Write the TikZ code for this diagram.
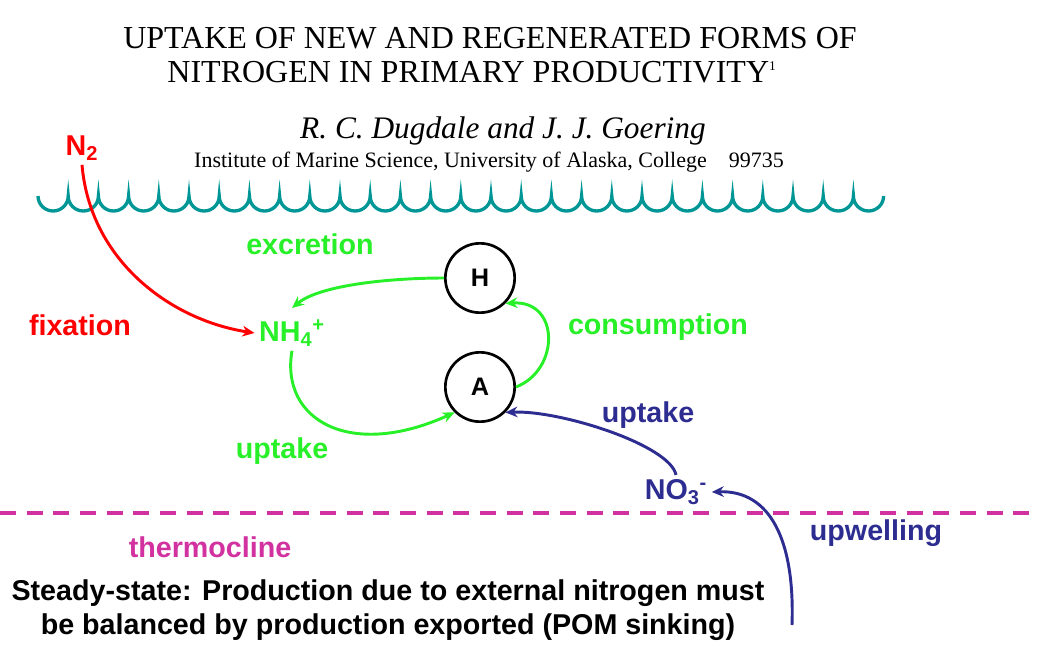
\documentclass[tikz,border=0pt]{standalone}
\usepackage{fontspec}
\setmainfont{Liberation Serif}
\setsansfont{Liberation Sans}
\usetikzlibrary{arrows.meta}
\definecolor{teal2}{RGB}{0,150,150}
\definecolor{grn}{RGB}{40,240,40}
\definecolor{nblue}{RGB}{45,45,145}
\definecolor{mag}{RGB}{210,50,160}
\tikzset{
 lab/.style={font=\sffamily\bfseries\fontsize{21.5}{25}\selectfont},
 circ/.style={draw,line width=2pt,circle,minimum size=52pt,font=\sffamily\bfseries\fontsize{19}{22}\selectfont},
 arr/.style={line width=2.2pt,-{Stealth[length=9pt,width=8pt]}}
}
\begin{document}
\begin{tikzpicture}[x=0.75pt,y=-0.75pt]
\useasboundingbox (0,0) rectangle (1039,667);
\node (t1) at (490,38) {\fontsize{24}{28}\selectfont UPTAKE OF NEW AND REGENERATED FORMS OF};
\node (t2) at (472,72) {\fontsize{24}{28}\selectfont NITROGEN IN PRIMARY PRODUCTIVITY\textsuperscript{\fontsize{10}{10}\selectfont 1}};
\node (au) at (503,131) {\fontsize{23.5}{27}\selectfont\itshape R. C. Dugdale and J. J. Goering};
\node (in) at (489,162) {\fontsize{16.5}{19}\selectfont Institute of Marine Science, University of Alaska, College\quad 99735};
% wave
\draw[teal2,line width=2.5pt] (38,196)
 \foreach \i in {0,...,27} { arc[start angle=180,end angle=0,x radius=15.1,y radius=15] };
\node[lab,red] (n2) at (82,148) {N\textsubscript{2}};
\node[lab,red] (fix) at (80,325) {fixation};
\node[lab,grn] (nh4) at (292,333) {NH\textsubscript{4}\textsuperscript{+}};
\node[circ] (H) at (480,278) {H};
\node[circ] (A) at (480,387) {A};
\node[lab,grn] (exc) at (310,244) {excretion};
\node[lab,grn] (con) at (658,327) {consumption};
\node[lab,grn] (upg) at (282,451) {uptake};
\node[lab,nblue] (no3) at (676,492) {NO\textsubscript{3}\textsuperscript{-}};
\node[lab,nblue] (upb) at (648,415) {uptake};
\node[lab,nblue] (upw) at (876,533) {upwelling};
\node[lab,mag] (th) at (210,547) {thermocline};
\node[lab,align=center] (ss) at (388,610) {Steady-state: Production due to external nitrogen must\\be balanced by production exported (POM sinking)};
\coordinate (d1) at (0,513); \coordinate (d2) at (1039,513);
\draw[mag,line width=2.5pt,dash pattern=on 12pt off 8pt] (d1) -- (d2);
\coordinate (us) at (792,625);
\draw[red,arr] (n2.south) .. controls (90,260) and (170,320) .. (nh4.west);
\draw[grn,arr] (H.west) .. controls (390,278) and (320,285) .. (292,308);
\draw[grn,arr] (A.east) .. controls (560,370) and (560,300) .. (H.south east);
\draw[grn,arr] (nh4.south) .. controls (280,420) and (350,460) .. (A.south west);
\draw[nblue,arr] (no3.north) .. controls (670,445) and (560,410) .. (A.south east);
\draw[nblue,arr] (us) .. controls (795,540) and (770,490) .. (no3.east);
\end{tikzpicture}
\end{document}
